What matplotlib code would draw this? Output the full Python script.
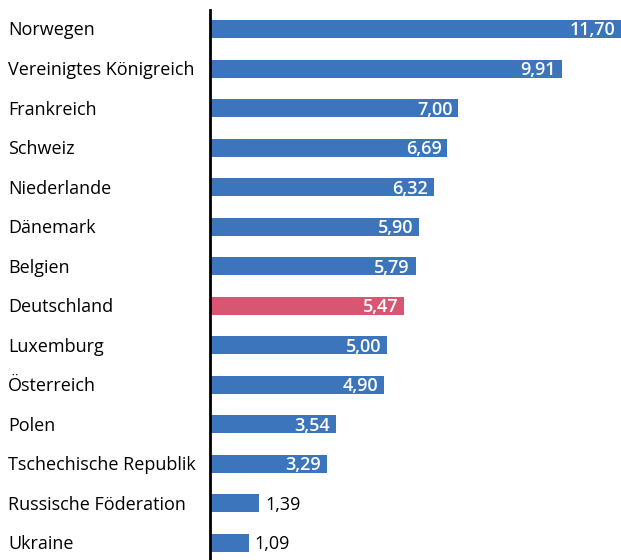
import matplotlib.pyplot as plt
import matplotlib.transforms as transforms

plt.rcParams['font.family'] = ['Open Sans', 'DejaVu Sans']

countries = ['Norwegen', 'Vereinigtes Königreich', 'Frankreich', 'Schweiz', 'Niederlande',
             'Dänemark', 'Belgien', 'Deutschland', 'Luxemburg', 'Österreich', 'Polen',
             'Tschechische Republik', 'Russische Föderation', 'Ukraine']
values = [11.70, 9.91, 7.00, 6.69, 6.32, 5.90, 5.79, 5.47, 5.00, 4.90, 3.54, 3.29, 1.39, 1.09]
highlight = 'Deutschland'

blue = '#3c75bb'
red = '#d75672'

fig = plt.figure(figsize=(6.21, 5.6), dpi=100)
ax = fig.add_axes([210 / 621, 0, 411 / 621, 550 / 560])

pos = list(range(len(countries)))
colors = [red if c == highlight else blue for c in countries]
ax.barh(pos, values, height=0.455, color=colors, left=0)
xmax = 11.58
ax.set_xlim(0, xmax)
ax.set_ylim(13.43, -0.48)

for s in ['top', 'right', 'bottom']:
    ax.spines[s].set_visible(False)
ax.spines['left'].set_linewidth(2)
ax.spines['left'].set_color('black')
ax.set_xticks([])
ax.set_yticks([])

down = transforms.ScaledTranslation(0, -1.5 / 100, fig.dpi_scale_trans)

# country names, left-aligned at the figure edge
trans = transforms.blended_transform_factory(fig.transFigure, ax.transData)
for p, c in zip(pos, countries):
    ax.text(8 / 621, p, c, transform=trans + down, ha='left', va='center', fontsize=13, clip_on=False)

# value labels
for p, v in zip(pos, values):
    lbl = f'{v:.2f}'.replace('.', ',')
    if v > 2:
        shift = transforms.ScaledTranslation(-6 / 100, -1.5 / 100, fig.dpi_scale_trans)
        ax.text(min(v, xmax), p, lbl, ha='right', va='center', fontsize=13, color='white',
                fontweight='semibold', transform=ax.transData + shift)
    else:
        shift = transforms.ScaledTranslation(6 / 100, -1.5 / 100, fig.dpi_scale_trans)
        ax.text(v, p, lbl, ha='left', va='center', fontsize=13, color='black',
                transform=ax.transData + shift)

fig.savefig('out.png', dpi=100)
